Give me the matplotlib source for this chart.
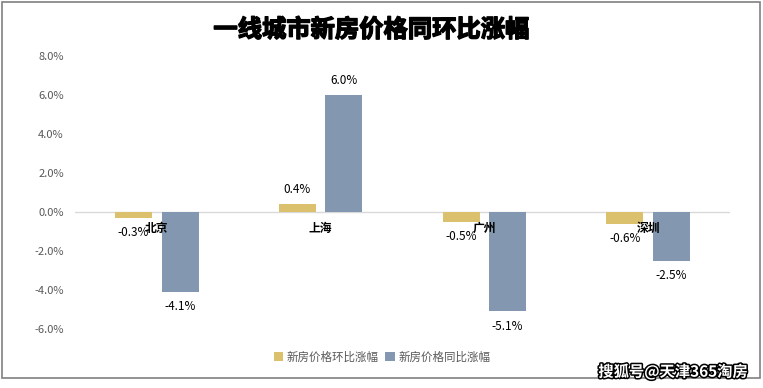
import matplotlib
matplotlib.use("Agg")
import matplotlib.pyplot as plt
import matplotlib.patheffects as pe
from matplotlib.patches import Rectangle
import numpy as np

plt.rcParams['font.family'] = ['Noto Sans CJK SC', 'DejaVu Sans']

categories = ['北京', '上海', '广州', '深圳']
mom = [-0.3, 0.4, -0.5, -0.6]      # 新房价格环比涨幅
yoy = [-4.1, 6.0, -5.1, -2.5]      # 新房价格同比涨幅
series_names = ['新房价格环比涨幅', '新房价格同比涨幅']
yticks = [-6, -4, -2, 0, 2, 4, 6, 8]
title = '一线城市新房价格同环比涨幅'
watermark = '搜狐号@天津365淘房'

gold = '#DBC06D'
blue = '#8497B0'

fig = plt.figure(figsize=(7.63, 3.88), dpi=100)
ax = fig.add_axes([75/763, 1-329/388, 655/763, (329-56)/388])

x = np.arange(len(categories))
w = 0.226
off = 0.142
b1 = ax.bar(x - off, mom, w, color=gold, label=series_names[0], zorder=2)
b2 = ax.bar(x + off, yoy, w, color=blue, label=series_names[1], zorder=2)

ax.set_xlim(-0.5, len(categories) - 0.5)
ax.set_ylim(-6, 8)
ax.set_yticks(yticks)
ax.set_yticklabels([f'{v:.1f}%' for v in yticks], fontsize=8, color='#595959')
ax.tick_params(axis='y', length=0, pad=8)
ax.set_xticks([])
for s in ax.spines.values():
    s.set_visible(False)
ax.axhline(0, color='#D9D9D9', lw=1, zorder=1)

for bars, vals in ((b1, mom), (b2, yoy)):
    for r, v in zip(bars, vals):
        cx = r.get_x() + r.get_width() / 2
        if v >= 0:
            ax.annotate(f'{v:.1f}%', (cx, v), xytext=(0, 6), textcoords='offset points',
                        ha='center', va='bottom', fontsize=8.5, color='black', zorder=4)
        else:
            ax.annotate(f'{v:.1f}%', (cx, v), xytext=(0, -6), textcoords='offset points',
                        ha='center', va='top', fontsize=8.5, color='black', zorder=4)

for i, c in enumerate(categories):
    ax.annotate(c, (i, 0), xytext=(0, -12), textcoords='offset points',
                ha='center', va='center', fontsize=8.5, fontweight='bold', color='black', zorder=5)

fig.text(371/763, 1-30/388, title, ha='center', va='center', fontsize=17.5, fontweight='bold',
         color='black', path_effects=[pe.withStroke(linewidth=1.0, foreground='black')])

leg = fig.legend(loc='center', bbox_to_anchor=(382/763, 1-357/388), ncol=2, frameon=False,
                 fontsize=8.3, handlelength=0.8, handleheight=0.8, handletextpad=0.3,
                 columnspacing=0.6, labelcolor='#595959')

fig.text(673/763, 1-372/388, watermark, ha='center', va='center', fontsize=11, fontweight='bold',
         color='white', path_effects=[pe.withStroke(linewidth=2.2, foreground='black')])

fig.patches.append(Rectangle((2/763, 1-378/388), 758/763, 376/388, transform=fig.transFigure,
                             fill=False, edgecolor='#808080', lw=1.2))

fig.savefig('out.png', dpi=100)
